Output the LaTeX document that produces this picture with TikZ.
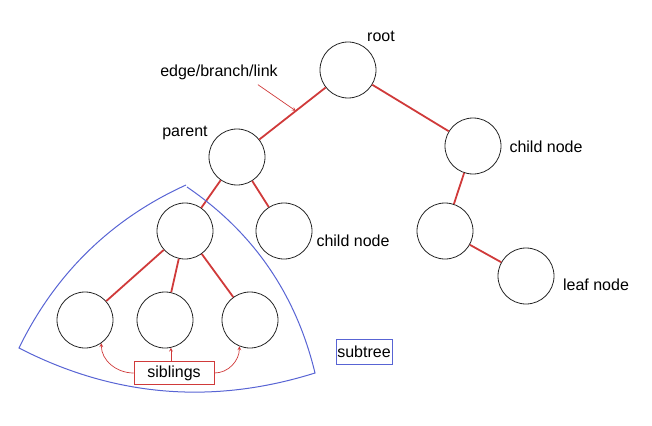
\documentclass[tikz,border=0pt]{standalone}
\usepackage{fontspec}
\setmainfont{Liberation Sans}
\usetikzlibrary{arrows,positioning,calc}
\definecolor{edgered}{RGB}{208,58,58}
\definecolor{treeblue}{RGB}{88,100,212}

\begin{document}
\begin{tikzpicture}[x=1pt,y=1pt]
\fontsize{16}{19}\selectfont
\tikzstyle{vertex} = [draw=black!85, circle, line width=0.8pt, minimum size=56pt, inner sep=0pt]
\tikzstyle{edge} = [draw=edgered, line width=1.8pt]
\tikzstyle{pointer} = [draw=edgered, line width=0.7pt, -stealth]
\tikzstyle{tag} = [inner sep=2pt]
\useasboundingbox (0,0) rectangle (652,-425);
\draw
(348,-70) node [vertex] (root) {}
(237,-157) node [vertex] (parent) {}
(473,-146) node [vertex] (rchild) {}
(185,-231) node [vertex] (sub) {}
(284,-231) node [vertex] (lchild) {}
(445,-231) node [vertex] (mid) {}
(526,-276) node [vertex] (leaf) {}
(85,-320) node [vertex] (s1) {}
(165,-320) node [vertex] (s2) {}
(250,-320) node [vertex] (s3) {};
\draw[edge] (root)--(parent) (root)--(rchild) (parent)--(sub) (parent)--(lchild)
(rchild)--(mid) (mid)--(leaf) (sub)--(s1) (sub)--(s2) (sub)--(s3);
% labels
\node [tag] (troot) at (381,-36) {root};
\node [tag] (tparent) at (185,-133) {parent};
\node [tag] (elabel) at (219,-72) {edge/branch/link};
\node [tag] (trchild) at (546,-147) {child node};
\node [tag] (tlchild) at (353,-241) {child node};
\node [tag] (tleaf) at (596,-285) {leaf node};
\node [draw=edgered, line width=0.6pt, minimum width=80pt, minimum height=23pt, inner sep=0pt] (sib) at (174,-373) {siblings};
\node [draw=treeblue, line width=0.7pt, minimum width=56pt, minimum height=25pt, inner sep=0pt] (subt) at (364,-352) {subtree};
% pointers
\coordinate (onedge) at ($(root)!0.47!(parent)$);
\draw[pointer] ([xshift=-22pt,yshift=-3pt]elabel.south east) -- (onedge);
\draw[pointer] (sib.west) to[out=180,in=-90] (s1.-55);
\draw[pointer] (sib.north -| s2.-78) -- (s2.-78);
\draw[pointer] (sib.east) to[out=0,in=-90] (s3.-112);
% subtree outline
\draw[treeblue, line width=1pt] (186,-185) .. controls (111,-219) and (55,-274) .. (19,-348)
.. controls (114,-397) and (213,-405) .. (315,-373)
.. controls (296,-294) and (253,-232) .. (187,-187);
\end{tikzpicture}
\end{document}
